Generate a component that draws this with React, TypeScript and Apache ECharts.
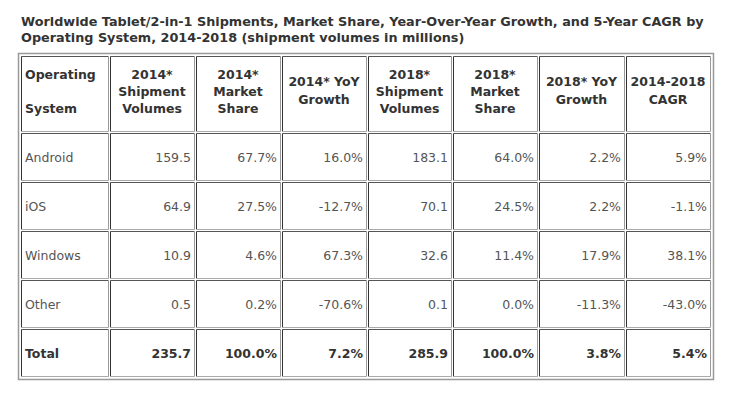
import React, { useEffect, useRef } from "react";
import * as echarts from "echarts";

const titleLines = [
  "Worldwide Tablet/2-in-1 Shipments, Market Share, Year-Over-Year Growth, and 5-Year CAGR by",
  "Operating System, 2014-2018 (shipment volumes in millions)",
];
const headers: string[][] = [
  ["Operating", "", "System"],
  ["2014*", "Shipment", "Volumes"],
  ["2014*", "Market", "Share"],
  ["2014* YoY", "Growth"],
  ["2018*", "Shipment", "Volumes"],
  ["2018*", "Market", "Share"],
  ["2018* YoY", "Growth"],
  ["2014-2018", "CAGR"],
];
const categories = ["Android", "iOS", "Windows", "Other", "Total"];
const ship2014 = [159.5, 64.9, 10.9, 0.5, 235.7];
const share2014 = [67.7, 27.5, 4.6, 0.2, 100.0];
const yoy2014 = [16.0, -12.7, 67.3, -70.6, 7.2];
const ship2018 = [183.1, 70.1, 32.6, 0.1, 285.9];
const share2018 = [64.0, 24.5, 11.4, 0.0, 100.0];
const yoy2018 = [2.2, 2.2, 17.9, -11.3, 3.8];
const cagr = [5.9, -1.1, 38.1, -43.0, 5.4];

const colEdges = [21, 110, 196, 282, 368, 453, 539, 626, 712];
const rowEdges = [56, 133, 182, 231, 280, 329, 378];
const FONT = "DejaVu Sans, Verdana, sans-serif";

export default function App() {
  const ref = useRef<HTMLDivElement>(null);
  useEffect(() => {
    if (!ref.current) return;
    const chart = echarts.init(ref.current, undefined, { renderer: "svg" });
    const els: any[] = [];
    titleLines.forEach((t, i) => {
      els.push({
        type: "text",
        style: {
          text: t,
          x: 21,
          y: 21 + i * 16,
          font: `bold 12.8px ${FONT}`,
          fill: "#333",
          textVerticalAlign: "middle",
        },
      });
    });
    // outer border
    els.push({
      type: "rect",
      shape: { x: 18.5, y: 53.5, width: 695, height: 326 },
      style: { fill: "#fff", stroke: "#999", lineWidth: 1.5 },
    });
    const line = (x1: number, y1: number, x2: number, y2: number, c: string) =>
      els.push({
        type: "line",
        shape: { x1, y1, x2, y2 },
        style: { stroke: c, lineWidth: 1 },
      });
    for (let r = 0; r < rowEdges.length - 1; r++) {
      for (let c = 0; c < colEdges.length - 1; c++) {
        const x0 = colEdges[c] + 0.5;
        const x1 = colEdges[c + 1] - 1.5;
        const y0 = rowEdges[r] + 0.5;
        const y1 = rowEdges[r + 1] - 1.5;
        line(x0, y0, x1, y0, "#555");
        line(x0, y0, x0, y1, "#333");
        line(x0, y1, x1, y1, "#aaa");
        line(x1, y0, x1, y1, "#999");
      }
    }
    // headers
    headers.forEach((h, c) => {
      const left = colEdges[c];
      const right = colEdges[c + 1] - 2;
      const cx = (left + right) / 2;
      const startY = h.length === 3 ? 74 : 81;
      const step = h.length === 3 ? 17 : 18;
      h.forEach((t, i) => {
        if (!t) return;
        els.push({
          type: "text",
          style: {
            text: t,
            x: c === 0 ? left + 4 : cx,
            y: startY + i * step,
            font: `bold 12.5px ${FONT}`,
            fill: "#333",
            textAlign: c === 0 ? "left" : "center",
            textVerticalAlign: "middle",
          },
        });
      });
    });
    const cols: string[][] = [
      categories,
      ship2014.map((v) => v.toFixed(1)),
      share2014.map((v) => v.toFixed(1) + "%"),
      yoy2014.map((v) => v.toFixed(1) + "%"),
      ship2018.map((v) => v.toFixed(1)),
      share2018.map((v) => v.toFixed(1) + "%"),
      yoy2018.map((v) => v.toFixed(1) + "%"),
      cagr.map((v) => v.toFixed(1) + "%"),
    ];
    categories.forEach((_, r) => {
      const top = rowEdges[r + 1];
      const bottom = rowEdges[r + 2] - 2;
      const cy = (top + bottom) / 2 + 1;
      const isTotal = r === categories.length - 1;
      cols.forEach((col, c) => {
        const left = colEdges[c];
        const right = colEdges[c + 1] - 2;
        els.push({
          type: "text",
          style: {
            text: col[r],
            x: c === 0 ? left + 4 : right - 3,
            y: cy,
            font: `${isTotal ? "bold " : ""}12.5px ${FONT}`,
            fill: isTotal ? "#333" : "#555",
            textAlign: c === 0 ? "left" : "right",
            textVerticalAlign: "middle",
          },
        });
      });
    });
    chart.setOption({
      animation: false,
      backgroundColor: "#fff",
      graphic: { elements: els },
    });
    return () => chart.dispose();
  }, []);
  return (
    <div
      ref={ref}
      style={{ position: "fixed", left: 0, top: 0, width: 736, height: 401 }}
    />
  );
}
